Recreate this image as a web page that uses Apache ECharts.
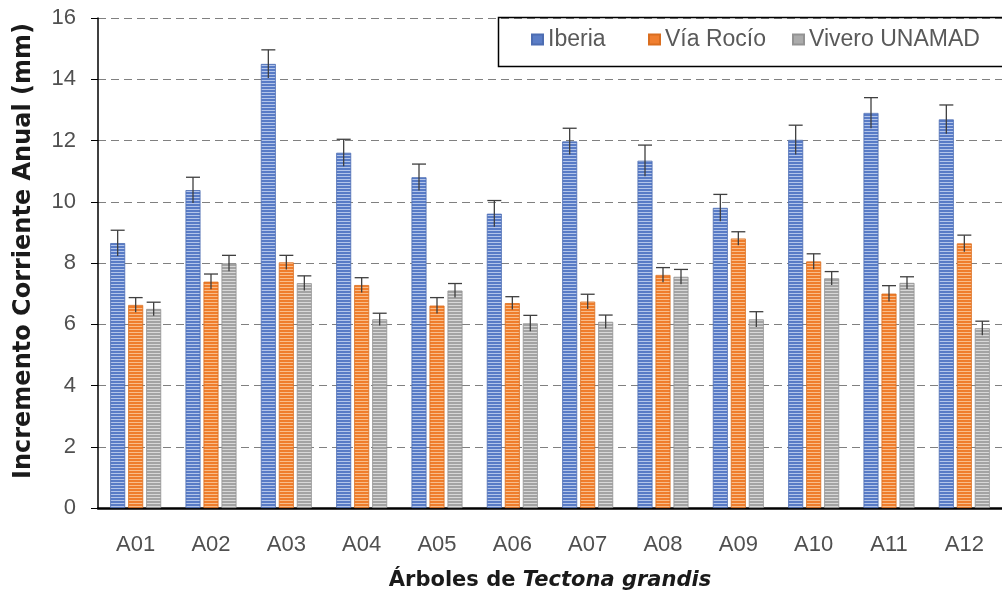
<!DOCTYPE html>
<html>
<head>
<meta charset="utf-8">
<script src="https://cdn.jsdelivr.net/npm/echarts@6/dist/echarts.min.js"></script>
<style>
  html, body { margin: 0; padding: 0; background: #ffffff; }
  #chart { width: 1002px; height: 600px; }
</style>
</head>
<body>
<div id="chart"></div>
<script>
// Trees sampled
var categories = ['A01', 'A02', 'A03', 'A04', 'A05', 'A06', 'A07', 'A08', 'A09', 'A10', 'A11', 'A12'];

// Mean annual increment (mm) per site
var iberia       = [8.65, 10.38, 14.50, 11.60, 10.80, 9.61, 11.97, 11.34, 9.80, 12.02, 12.90, 12.69];
var viaRocio     = [6.63, 7.39, 8.02, 7.28, 6.61, 6.69, 6.74, 7.61, 8.80, 8.05, 7.00, 8.64];
var viveroUnamad = [6.50, 7.99, 7.34, 6.16, 7.10, 6.03, 6.08, 7.55, 6.16, 7.50, 7.35, 5.87];

// Error bar lengths (mm)
var iberiaErr       = [0.42, 0.42, 0.46, 0.44, 0.43, 0.43, 0.43, 0.51, 0.44, 0.48, 0.50, 0.47];
var viaRocioErr     = [0.24, 0.25, 0.23, 0.24, 0.26, 0.21, 0.24, 0.24, 0.22, 0.25, 0.26, 0.27];
var viveroUnamadErr = [0.22, 0.26, 0.24, 0.20, 0.23, 0.26, 0.22, 0.24, 0.25, 0.22, 0.20, 0.23];

var yTicks = [0, 2, 4, 6, 8, 10, 12, 14, 16];

// Horizontal-stripe fill used by the bars
function stripes(base, light) {
  var c = document.createElement('canvas');
  c.width = 4; c.height = 3;
  var ctx = c.getContext('2d');
  ctx.fillStyle = base; ctx.fillRect(0, 0, 4, 2);
  ctx.fillStyle = light; ctx.fillRect(0, 2, 4, 1);
  return { image: c, repeat: 'repeat' };
}

var BAR_W = 15, BAR_STEP = 18;

function errorSeries(name, values, errs, offset) {
  return {
    type: 'custom',
    name: name + ' error',
    z: 5,
    silent: true,
    data: values.map(function (v, i) { return [i, v, errs[i]]; }),
    encode: { x: 0, y: 1 },
    renderItem: function (params, api) {
      var i = api.value(0), v = api.value(1), e = api.value(2);
      var top = api.coord([i, v + e]);
      var low = api.coord([i, v - e]);
      var x = top[0] + offset;
      var st = { stroke: '#3f3f3f', lineWidth: 1.3 };
      return {
        type: 'group',
        children: [
          { type: 'line', shape: { x1: x, y1: low[1], x2: x, y2: top[1] }, style: st },
          { type: 'line', shape: { x1: x - 7, y1: top[1], x2: x + 7, y2: top[1] }, style: st }
        ]
      };
    }
  };
}

function barSeries(name, values, fill, border) {
  return {
    type: 'bar',
    name: name,
    data: values,
    barWidth: BAR_W,
    barGap: '20%',
    itemStyle: { color: fill, borderColor: border, borderWidth: 0.8 }
  };
}

var tickFont = 'Liberation Sans';

var chart = echarts.init(document.getElementById('chart'), null, { renderer: 'canvas' });
chart.setOption({
  animation: false,
  backgroundColor: '#ffffff',
  grid: { left: 98, right: -8, top: 18, bottom: 92, containLabel: false },
  legend: [
    { data: [{ name: 'Iberia', itemStyle: { color: '#5b7dc6' } }], left: 531, top: 28 },
    { data: [{ name: 'Vía Rocío', itemStyle: { color: '#f07f30' } }], left: 648, top: 28 },
    { data: [{ name: 'Vivero UNAMAD', itemStyle: { color: '#ababab' } }], left: 792, top: 28 }
  ].map(function (l) {
    l.padding = 0;
    l.icon = 'rect';
    l.itemWidth = 11;
    l.itemHeight = 10;
    l.selectedMode = false;
    l.textStyle = { fontFamily: tickFont, fontSize: 23, color: '#595959' };
    return l;
  }),
  graphic: [{
    type: 'rect',
    left: 496, top: 15,
    shape: { width: 620, height: 49 },
    style: { fill: 'none', stroke: '#000000', lineWidth: 1.5 },
    z: 10
  }],
  xAxis: {
    type: 'category',
    data: categories,
    axisLine: { show: true, lineStyle: { color: '#000000', width: 2.5 } },
    axisTick: { show: false },
    axisLabel: { fontFamily: tickFont, fontSize: 22, color: '#505050', margin: 26 },
    name: '{b|Árboles de }{i|Tectona grandis}',
    nameLocation: 'middle',
    nameGap: 62,
    nameTextStyle: {
      rich: {
        b: { fontFamily: 'DejaVu Sans', fontWeight: 'bold', fontSize: 21, color: '#1a1a1a' },
        i: { fontFamily: 'DejaVu Sans', fontWeight: 'bold', fontStyle: 'italic', fontSize: 21, color: '#1a1a1a' }
      }
    }
  },
  yAxis: {
    type: 'value',
    min: yTicks[0],
    max: yTicks[yTicks.length - 1],
    interval: 2,
    axisLine: { show: true, lineStyle: { color: '#000000', width: 1.5 } },
    axisTick: { show: true, inside: false, length: 7, lineStyle: { color: '#000000', width: 1 } },
    axisLabel: { fontFamily: tickFont, fontSize: 22, color: '#505050', margin: 22 },
    splitLine: { show: true, lineStyle: { color: '#808080', width: 1, type: [8, 5] } },
    name: 'Incremento Corriente Anual (mm)',
    nameLocation: 'middle',
    nameGap: 62,
    nameTextStyle: {
      fontFamily: 'DejaVu Sans', fontWeight: 'bold', fontSize: 24, color: '#1a1a1a',
      padding: [0, 0, 0, 24]
    }
  },
  series: [
    barSeries('Iberia', iberia, stripes('#587bc6', '#b3c5ea'), '#4d6db2'),
    barSeries('Vía Rocío', viaRocio, stripes('#ef7d2c', '#f9bd8a'), '#da6e20'),
    barSeries('Vivero UNAMAD', viveroUnamad, stripes('#a3a3a3', '#d8d8d8'), '#939393'),
    errorSeries('Iberia', iberia, iberiaErr, -BAR_STEP),
    errorSeries('Vía Rocío', viaRocio, viaRocioErr, 0),
    errorSeries('Vivero UNAMAD', viveroUnamad, viveroUnamadErr, BAR_STEP)
  ]
});
</script>
</body>
</html>
